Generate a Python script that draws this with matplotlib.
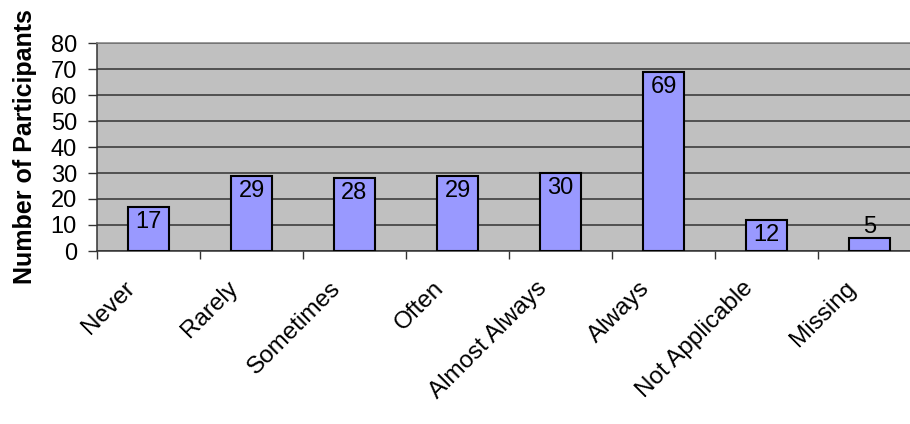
import matplotlib
matplotlib.use("Agg")
import matplotlib.pyplot as plt
import matplotlib.transforms as mtransforms
import numpy as np

categories = ["Never", "Rarely", "Sometimes", "Often", "Almost Always",
              "Always", "Not Applicable", "Missing"]
counts = [17, 29, 28, 29, 30, 69, 12, 5]
y_ticks = [0, 10, 20, 30, 40, 50, 60, 70, 80]
y_label = "Number of Participants"

plt.rcParams["font.family"] = ["Liberation Sans", "DejaVu Sans"]
FS = 17

fig = plt.figure(figsize=(9.10, 4.24), dpi=100)
ax = fig.add_axes([97 / 910, 1 - 251 / 424, 824 / 910, 208 / 424])
ax.set_facecolor("#C0C0C0")

x = np.arange(len(categories))
ax.bar(x, counts, width=0.39, color="#9999FF", edgecolor="black",
       linewidth=1.5, zorder=3)

for xi, v in zip(x, counts):
    if v >= 10:
        ax.annotate(str(v), (xi, v), xytext=(0, -3), textcoords="offset points",
                    ha="center", va="top", fontsize=FS, zorder=4)
    else:
        ax.annotate(str(v), (xi, v), xytext=(0, 0), textcoords="offset points",
                    ha="center", va="bottom", fontsize=FS, zorder=4)

ax.set_xlim(-0.5, len(categories) - 0.5)
ax.set_ylim(0, 80)
ax.set_yticks(y_ticks)
ax.set_yticklabels([str(t) for t in y_ticks], fontsize=FS)
ax.yaxis.grid(True, color="#333333", linewidth=1.1, zorder=1)
ax.set_axisbelow(True)

# category labels centred on each bar, tick marks on category boundaries
ax.set_xticks(x)
ax.set_xticklabels(categories, fontsize=17.5, rotation=45, ha="right", va="top")
ax.tick_params(axis="x", which="major", length=0, pad=19)
shift = mtransforms.ScaledTranslation(-9 / 100, 0, fig.dpi_scale_trans)
for lbl in ax.get_xticklabels():
    lbl.set_transform(lbl.get_transform() + shift)
ax.set_xticks(np.arange(-0.5, len(categories), 1.0), minor=True)
ax.tick_params(axis="x", which="minor", length=5.5, width=1, color="#333333")
ax.tick_params(axis="y", length=6.5, width=1, color="#333333", pad=8)

for side in ("top", "right"):
    ax.spines[side].set_color("#808080")
ax.spines["left"].set_color("#333333")
ax.spines["bottom"].set_color("#333333")
for s in ax.spines.values():
    s.set_linewidth(1.1)

ax.set_ylabel(y_label, fontsize=18, fontweight="bold", labelpad=10)

fig.savefig("out.png", dpi=100)
